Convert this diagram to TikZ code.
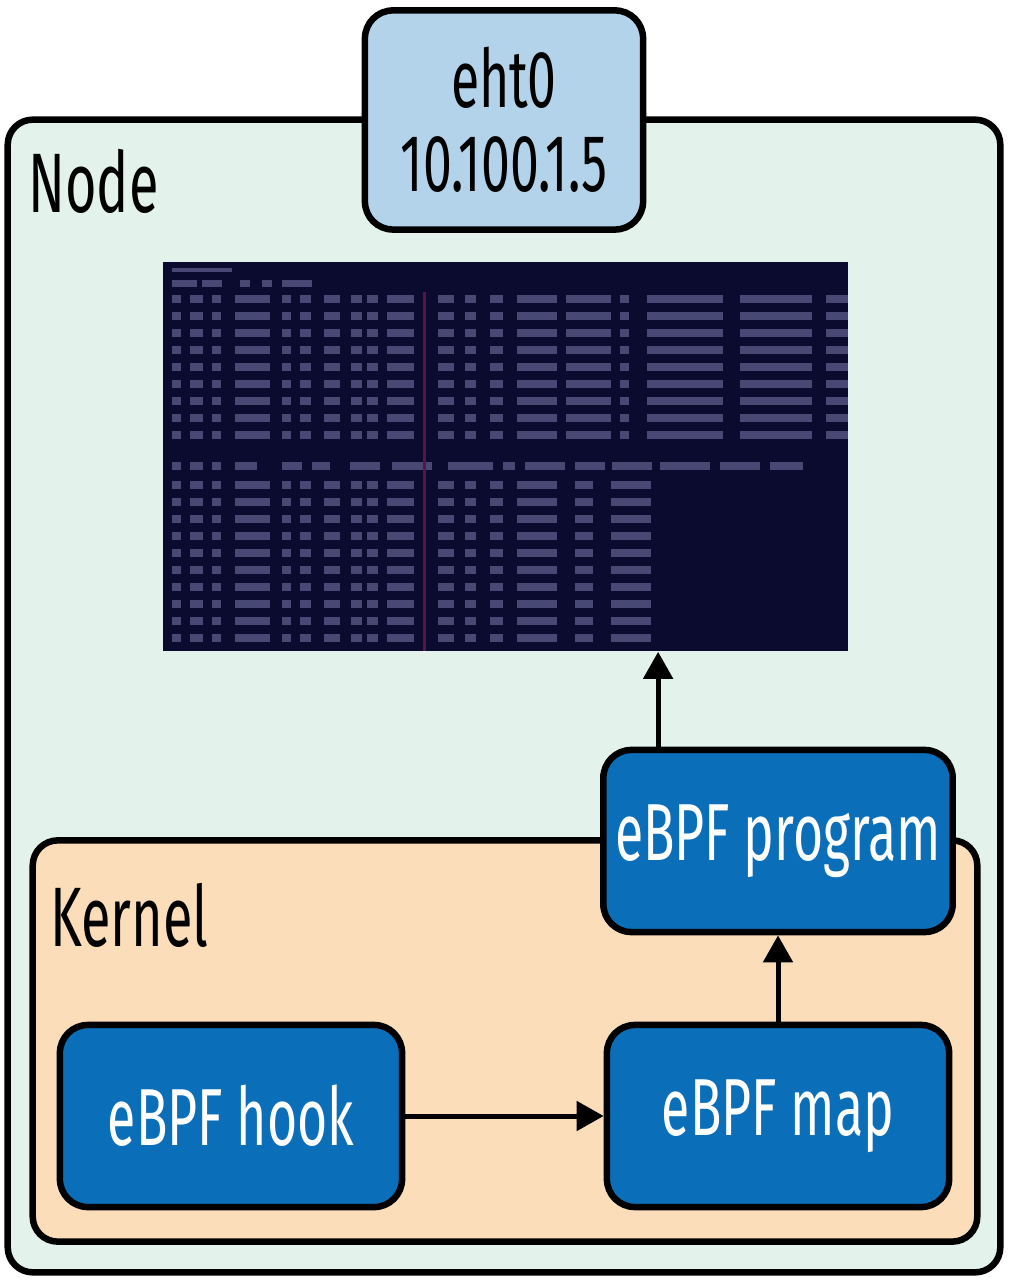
\documentclass[tikz,border=0pt]{standalone}
\usepackage{fontspec}
\setmainfont[FakeStretch=0.64]{Fira Sans}
\usetikzlibrary{arrows.meta}
\definecolor{nodebg}{HTML}{E3F2EB}
\definecolor{ethbg}{HTML}{B3D3EA}
\definecolor{kernbg}{HTML}{FCDDBA}
\definecolor{ebpf}{HTML}{0A6EB8}
\definecolor{term}{HTML}{0B0B2F}
\definecolor{termtxt}{HTML}{484874}
\definecolor{termred}{HTML}{5A1446}
\begin{document}
\begin{tikzpicture}[x=.01cm, y=-.01cm,
    box/.style={draw=black, line width=.065cm, rounded corners=.28cm},
    blk/.style={box, fill=ebpf, text=white, minimum width=3.42cm,
      minimum height=1.82cm, font=\fontsize{23}{26}\selectfont},
    lbl/.style={anchor=base west, font=\fontsize{24}{26}\selectfont},
    arr/.style={line width=.05cm, -{Triangle[length=.27cm,width=.29cm]}}]
  \useasboundingbox (0,0) rectangle (1008,1280);
  \node[box, fill=nodebg, minimum width=9.92cm, minimum height=11.52cm,
    rounded corners=.25cm] (host) at (504,696) {};
  \node[lbl] (hostlbl) at (16,213) {Node};
  \node[box, fill=kernbg, minimum width=9.44cm, minimum height=4.01cm,
    rounded corners=.25cm] (kern) at (505,1041) {};
  \node[lbl] (kernlbl) at (38,946) {Kernel};
  % terminal screenshot
  \node[fill=term, inner sep=0pt, minimum width=6.85cm, minimum height=3.89cm]
    (scr) at (505.5,456.5) {};
  \begin{scope}
    \foreach \x/\w in {172/60}{%
      \fill[termtxt] (\x,268) rectangle (\x+\w,272);
    }
    \foreach \x/\w in {172/25,202/20,240/10,262/10,282/30}{%
      \fill[termtxt] (\x,280) rectangle (\x+\w,287);
    }
    \foreach \y in {299,316,...,448}{%
      \foreach \x/\w in {172/9,190/13,212/9,235/35,282/9,300/11,324/16,351/11,367/11,387/27,
          438/16,465/11,490/13,517/40,566/45,620/9,647/76,740/72,826/22}{%
        \fill[termtxt] (\x,\y-4) rectangle (\x+\w,\y+4);
      }
    }
    \foreach \x/\w in {172/9,190/13,212/9,235/22,282/20,312/18,350/30,392/40,448/45,
        503/12,525/40,575/30,612/40,660/50,720/40,770/33}{%
      \fill[termtxt] (\x,462) rectangle (\x+\w,470);
    }
    \foreach \y in {485,502,...,641}{%
      \foreach \x/\w in {172/9,190/13,212/9,235/35,282/9,300/11,324/16,351/11,367/11,387/27,
          438/16,465/11,490/13,517/40,575/18,611/40}{%
        \fill[termtxt] (\x,\y-4) rectangle (\x+\w,\y+4);
      }
    }
    \draw[termred, line width=.03cm] (424,292) -- (424,651);
  \end{scope}
  \node[box, fill=ethbg, minimum width=2.78cm, minimum height=2.19cm, align=center,
    font=\fontsize{23}{24}\selectfont] (eth) at (504,120) {eht0\\10.100.1.5};
  \node[blk] (prog) at (778,841) {eBPF program};
  \node[blk] (hook) at (231,1116) {eBPF hook};
  \node[blk] (map) at (778,1116) {eBPF map};
  \draw[arr] (hook) -- (map);
  \draw[arr] (map) -- (prog);
  \draw[arr] ([xshift=.58cm]prog.north west) -- ([xshift=.58cm]prog.north west |- scr.south);
\end{tikzpicture}
\end{document}
